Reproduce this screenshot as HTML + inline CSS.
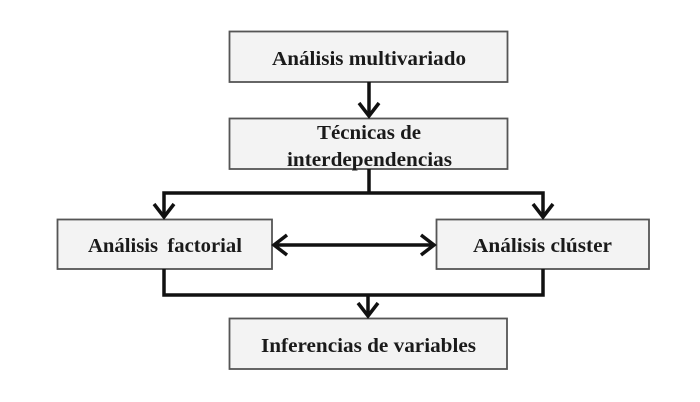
<!DOCTYPE html>
<html><head><meta charset="utf-8"><style>
html,body{margin:0;padding:0;background:#fff;}
svg{display:block;}
text{font-family:"Liberation Serif",serif;font-weight:bold;font-size:20px;fill:#1a1a1a;}
</style></head><body>
<svg width="700" height="402" viewBox="0 0 700 402" xmlns="http://www.w3.org/2000/svg">
<rect x="0" y="0" width="700" height="402" fill="#fff"/>
<g fill="#f3f3f3" stroke="#555" stroke-width="1.8">
<rect x="229.5" y="31.5" width="278" height="50.5"/>
<rect x="229.5" y="118.5" width="278" height="50.5"/>
<rect x="57.5" y="219.5" width="214.5" height="49.5"/>
<rect x="436.5" y="219.5" width="212.5" height="49.5"/>
<rect x="229.5" y="318.5" width="277.5" height="50.5"/>
</g>
<g fill="none" stroke="#111" stroke-width="3.5" stroke-linejoin="miter">
<line x1="369" y1="82" x2="369" y2="116"/>
<polyline points="359,103 369,116 379,103"/>
<polyline points="369,169 369,193"/>
<polyline points="164,217 164,193 543,193 543,217"/>
<polyline points="154,204 164,217 174,204"/>
<polyline points="533,204 543,217 553,204"/>
<line x1="274" y1="245" x2="434" y2="245"/>
<polyline points="287,235 274,245 287,255"/>
<polyline points="421,235 434,245 421,255"/>
<polyline points="164,269 164,295 543,295 543,269"/>
<line x1="368" y1="295" x2="368" y2="316"/>
<polyline points="358,303 368,316 378,303"/>
</g>
<text x="272" y="65" textLength="194" lengthAdjust="spacingAndGlyphs">Análisis multivariado</text>
<text x="317" y="139" textLength="104" lengthAdjust="spacingAndGlyphs">Técnicas de</text>
<text x="287" y="166" textLength="165" lengthAdjust="spacingAndGlyphs">interdependencias</text>
<text x="88" y="252" textLength="154" lengthAdjust="spacingAndGlyphs" word-spacing="4">Análisis factorial</text>
<text x="473" y="252" textLength="139" lengthAdjust="spacingAndGlyphs">Análisis clúster</text>
<text x="261" y="352" textLength="215" lengthAdjust="spacingAndGlyphs">Inferencias de variables</text>
</svg>
</body></html>
